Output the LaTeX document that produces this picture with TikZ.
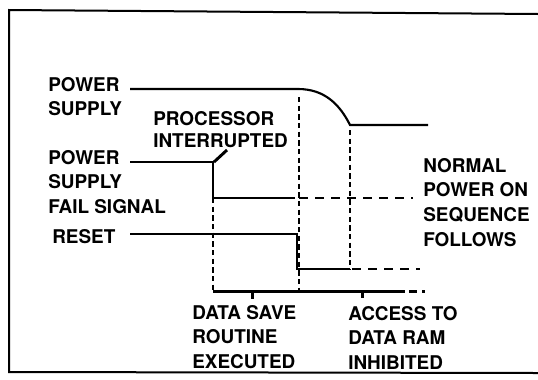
\documentclass[tikz,border=0pt]{standalone}
\usepackage{fontspec}
\setmainfont{TeX Gyre Heros}

\begin{document}
\begin{tikzpicture}[x=0.75pt,y=-0.75pt,
  every node/.style={inner sep=0pt,anchor=north west,align=left,font=\fontsize{14.2}{18.5}\selectfont\bfseries},
  sig/.style={line width=1.6pt},
  sigdash/.style={line width=1.6pt,dash pattern=on 7pt off 5pt},
  guide/.style={line width=1.1pt,dash pattern=on 4pt off 2.5pt},
  bracket/.style={black,line width=2.2pt}]
\useasboundingbox (0,0) rectangle (538,379);
% frame, open on the right
\draw[line width=1.5pt] (538,14) -- (9,10) -- (9,372) -- (538,373);
% labels
\node (psup) at (48,77) {POWER\\SUPPLY};
\node (intr) at (153,111) [font=\fontsize{14.2}{16.5}\selectfont\bfseries] {PROCESSOR\\INTERRUPTED};
\node (pfail) at (48,150) {POWER\\SUPPLY\\FAIL SIGNAL};
\node (rst) at (52,229) {RESET};
\node (norm) at (423,158) {NORMAL\\POWER ON\\SEQUENCE\\FOLLOWS};
\node (save) at (192,305) {DATA SAVE\\ROUTINE\\EXECUTED};
\node (acc) at (348,306) {ACCESS TO\\DATA RAM\\INHIBITED};
% brackets under the two intervals
\draw[bracket] (213,291.5) -- (405,291.5);
\draw[bracket] (252.5,291.5) -- (252.5,299);
\draw[bracket] (362.5,291.5) -- (362.5,298);
\draw[bracket,dash pattern=on 6pt off 4pt] (409,291.5) -- (425,291.5);
% leader from the interrupt label
\coordinate (irq) at (214,162);
\draw[bracket] (227,150) -- (irq);
% power supply
\draw[sig] (130,89) -- (298,89) .. controls (325,89) and (340,105) .. (350,125) -- (428,125);
% power supply fail signal
\draw[sig] (130,162) -- (213,162) -- (213,198) -- (295,198);
\draw[sigdash] (299,198) -- (413,198);
% reset
\draw[sig] (130,234) -- (297,234) -- (297,269) -- (350,269);
\draw[sigdash] (352,269) -- (420,269);
% timing guides
\draw[guide] (213,198) -- (213,291);
\draw[guide] (299,97) -- (299,291);
\draw[guide] (350,130) -- (350,269);
\end{tikzpicture}
\end{document}
